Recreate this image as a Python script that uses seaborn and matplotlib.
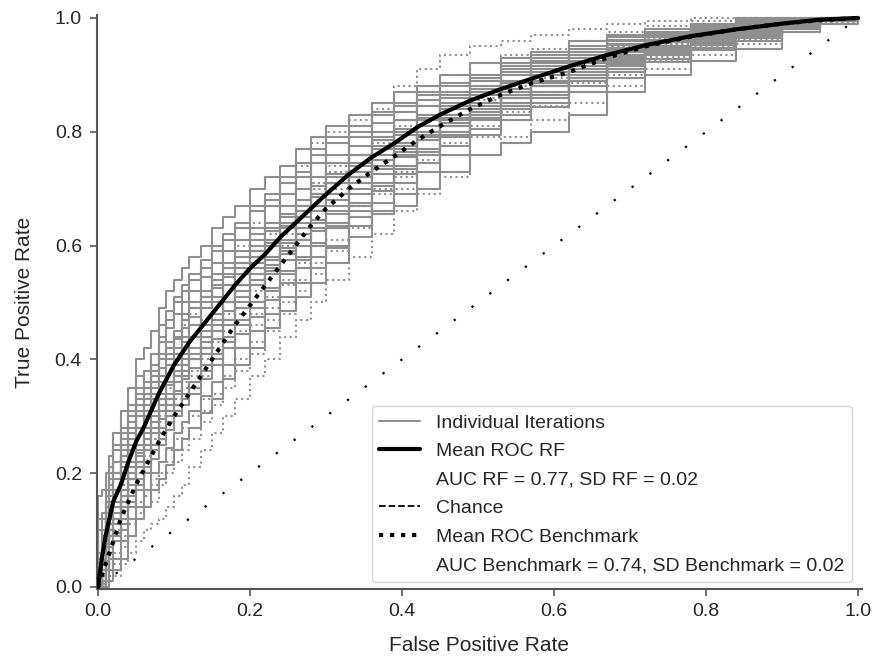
import numpy as np
import pandas as pd
import matplotlib
matplotlib.use("Agg")
import matplotlib.pyplot as plt
from matplotlib.lines import Line2D
import seaborn as sns

# False positive rate grid shared by all curves (the origin appears twice so
# every curve can start with a vertical jump at FPR = 0)
fpr_grid = [0.0, 0.0, 0.005, 0.01, 0.015, 0.02, 0.03, 0.04, 0.05, 0.06, 0.07,
            0.08, 0.09, 0.10, 0.11, 0.12, 0.135, 0.15, 0.165, 0.18, 0.20, 0.22,
            0.24, 0.26, 0.28, 0.30, 0.33, 0.36, 0.39, 0.42, 0.45, 0.49, 0.53,
            0.57, 0.62, 0.67, 0.72, 0.78, 0.84, 0.90, 0.95, 1.0]

# Mean ROC curves
mean_rf = [0, 0, .05, .09, .12, .15, .18, .22, .255, .28, .31, .34, .365, .39,
           .41, .43, .455, .48, .505, .53, .56, .585, .615, .64, .665, .69, .725,
           .755, .78, .808, .83, .855, .875, .893, .915, .935, .952, .968, .98,
           .99, .997, 1.0]
mean_bench = [0, 0, .02, .04, .06, .08, .12, .15, .18, .205, .23, .255, .278, .30,
              .32, .34, .37, .40, .43, .46, .495, .53, .565, .60, .635, .665, .70,
              .73, .757, .785, .81, .84, .865, .885, .905, .93, .95, .967, .98,
              .99, .996, 1.0]

# Individual RF iterations (solid grey)
rf_iters = [
    [0, .16, .17, .20, .23, .27, .31, .35, .40, .42, .45, .49, .52, .54, .56, .58, .60, .63, .65, .67, .70, .72, .74, .77, .79, .81, .83, .85, .87, .88, .90, .92, .93, .94, .96, .97, .98, .99, 1.0, 1.0, 1.0, 1.0],
    [0, .12, .13, .16, .20, .24, .27, .31, .35, .38, .41, .44, .47, .50, .52, .54, .56, .59, .61, .63, .66, .68, .71, .73, .76, .78, .80, .83, .845, .865, .88, .895, .915, .93, .945, .962, .972, .985, .993, .998, 1.0, 1.0],
    [0, .10, .12, .17, .21, .25, .28, .32, .37, .38, .41, .46, .485, .51, .53, .55, .575, .60, .62, .64, .67, .69, .72, .745, .77, .79, .81, .835, .85, .87, .885, .90, .92, .935, .95, .967, .976, .988, .996, .998, 1.0, 1.0],
    [0, .05, .10, .15, .19, .22, .26, .30, .34, .36, .39, .43, .455, .48, .50, .52, .545, .57, .59, .61, .63, .67, .69, .72, .745, .76, .79, .815, .835, .855, .87, .89, .91, .925, .94, .96, .97, .983, .992, .996, .999, 1.0],
    [0, .04, .09, .13, .17, .20, .24, .28, .32, .34, .37, .41, .42, .44, .48, .50, .52, .55, .57, .59, .62, .64, .67, .70, .72, .745, .775, .80, .82, .845, .86, .88, .90, .915, .935, .953, .966, .979, .989, .995, .998, 1.0],
    [0, .05, .08, .12, .16, .20, .23, .27, .31, .33, .36, .40, .42, .45, .47, .49, .51, .54, .56, .58, .61, .63, .65, .67, .69, .71, .73, .75, .77, .79, .81, .83, .85, .87, .895, .92, .94, .958, .972, .986, .996, 1.0],
    [0, .02, .08, .12, .15, .19, .22, .26, .30, .32, .35, .385, .41, .435, .455, .475, .50, .525, .545, .57, .60, .625, .655, .68, .705, .725, .76, .785, .805, .83, .85, .875, .89, .91, .93, .947, .961, .976, .986, .993, .998, 1.0],
    [0, .03, .07, .11, .14, .17, .21, .25, .28, .31, .34, .37, .40, .42, .44, .46, .49, .51, .53, .56, .59, .61, .64, .67, .69, .71, .745, .775, .80, .825, .845, .87, .885, .905, .925, .943, .958, .973, .984, .992, .998, 1.0],
    [0, .01, .06, .10, .14, .17, .20, .24, .28, .30, .33, .36, .39, .41, .43, .44, .49, .50, .53, .55, .58, .605, .635, .66, .685, .71, .74, .77, .795, .82, .84, .865, .885, .90, .92, .94, .957, .972, .983, .992, .997, 1.0],
    [0, 0, .05, .08, .12, .15, .19, .22, .25, .28, .31, .34, .36, .39, .41, .44, .46, .48, .50, .53, .56, .58, .61, .64, .67, .69, .72, .76, .78, .81, .83, .85, .875, .89, .915, .935, .95, .968, .98, .99, .997, 1.0],
    [0, 0, .045, .085, .11, .14, .17, .21, .24, .27, .30, .33, .355, .38, .40, .42, .45, .47, .50, .52, .55, .575, .605, .63, .66, .68, .72, .75, .775, .80, .825, .85, .87, .89, .91, .932, .95, .966, .979, .989, .997, 1.0],
    [0, 0, .04, .075, .10, .13, .16, .20, .235, .26, .29, .32, .34, .37, .39, .41, .43, .46, .485, .51, .54, .565, .595, .62, .645, .67, .71, .74, .765, .795, .82, .845, .865, .885, .91, .93, .947, .964, .977, .988, .997, 1.0],
    [0, 0, .03, .07, .10, .12, .15, .19, .22, .25, .28, .31, .33, .36, .38, .40, .42, .45, .47, .50, .53, .555, .585, .61, .64, .66, .70, .735, .76, .79, .815, .84, .86, .88, .905, .928, .945, .962, .976, .988, .996, 1.0],
    [0, 0, .02, .06, .09, .11, .14, .18, .21, .24, .27, .295, .32, .345, .365, .385, .41, .435, .46, .49, .50, .55, .575, .60, .625, .655, .69, .725, .755, .785, .81, .835, .86, .88, .90, .925, .943, .96, .974, .987, .996, 1.0],
    [0, 0, .01, .045, .07, .095, .12, .16, .19, .22, .25, .27, .30, .32, .34, .36, .39, .41, .44, .47, .50, .525, .555, .58, .605, .635, .675, .71, .74, .77, .80, .83, .85, .87, .895, .917, .938, .957, .971, .985, .996, 1.0],
    [0, 0, .01, .04, .06, .09, .11, .15, .18, .21, .24, .26, .29, .31, .33, .35, .38, .40, .43, .46, .49, .52, .55, .575, .60, .63, .67, .705, .735, .765, .795, .825, .845, .865, .89, .915, .936, .955, .97, .985, .995, 1.0],
    [0, 0, .005, .03, .05, .08, .10, .14, .17, .20, .225, .25, .275, .30, .32, .34, .365, .39, .42, .445, .475, .505, .535, .56, .58, .60, .66, .695, .725, .76, .79, .82, .84, .86, .89, .91, .934, .953, .968, .984, .995, 1.0],
    [0, 0, 0, .01, .03, .05, .08, .12, .14, .17, .20, .22, .245, .27, .29, .31, .335, .36, .39, .42, .45, .48, .51, .535, .56, .595, .635, .675, .71, .745, .775, .805, .83, .85, .88, .905, .928, .948, .964, .982, .995, 1.0],
    [0, 0, 0, 0, .01, .03, .05, .09, .12, .14, .17, .19, .215, .24, .26, .28, .305, .33, .365, .39, .42, .455, .485, .51, .535, .57, .615, .655, .69, .73, .76, .795, .82, .843, .87, .895, .922, .943, .96, .98, .994, 1.0],
    [0, 0, .03, .07, .10, .12, .16, .19, .23, .25, .28, .31, .33, .36, .38, .40, .42, .45, .47, .50, .53, .56, .59, .61, .63, .64, .65, .66, .67, .70, .73, .76, .78, .80, .83, .87, .90, .925, .945, .975, .99, 1.0],
    [0, .06, .10, .15, .18, .22, .25, .29, .33, .35, .38, .41, .43, .45, .47, .49, .51, .53, .55, .57, .59, .61, .63, .65, .67, .69, .72, .74, .76, .79, .81, .84, .86, .88, .90, .925, .945, .962, .975, .988, .997, 1.0],
    [0, 0, .02, .04, .07, .09, .12, .15, .18, .21, .25, .28, .31, .34, .37, .40, .44, .47, .50, .53, .57, .60, .63, .66, .69, .72, .76, .79, .82, .845, .865, .89, .905, .92, .94, .955, .97, .98, .99, .995, .999, 1.0],
]

# Individual benchmark iterations (dotted grey)
bench_iters = [
    [0, .07, .10, .14, .17, .20, .25, .28, .32, .35, .37, .40, .42, .44, .46, .48, .51, .54, .57, .60, .64, .67, .71, .74, .78, .80, .82, .85, .87, .88, .90, .92, .935, .945, .96, .975, .985, .995, 1.0, 1.0, 1.0, 1.0],
    [0, .03, .08, .12, .16, .19, .23, .27, .30, .32, .34, .36, .38, .40, .42, .44, .47, .50, .53, .56, .59, .62, .65, .68, .71, .73, .76, .78, .80, .82, .845, .87, .89, .91, .93, .95, .965, .978, .988, .995, .999, 1.0],
    [0, .04, .06, .09, .11, .14, .18, .22, .25, .28, .30, .33, .35, .37, .39, .41, .44, .47, .50, .53, .57, .60, .64, .67, .71, .73, .76, .79, .81, .83, .86, .88, .90, .915, .93, .95, .965, .975, .985, .993, .998, 1.0],
    [0, .02, .04, .07, .09, .11, .15, .18, .21, .24, .26, .29, .31, .33, .35, .37, .40, .43, .46, .49, .53, .56, .60, .63, .67, .70, .73, .76, .78, .81, .84, .86, .88, .90, .92, .94, .958, .972, .984, .993, .998, 1.0],
    [0, 0, .03, .05, .08, .10, .14, .17, .20, .23, .25, .28, .30, .32, .34, .36, .39, .42, .45, .48, .52, .55, .59, .62, .66, .69, .72, .75, .775, .80, .83, .855, .875, .895, .915, .935, .955, .97, .982, .991, .996, 1.0],
    [0, 0, .01, .03, .04, .06, .09, .12, .15, .17, .19, .22, .24, .26, .28, .30, .33, .36, .39, .42, .46, .49, .53, .56, .60, .63, .67, .70, .73, .76, .79, .82, .845, .87, .89, .915, .938, .955, .97, .984, .994, 1.0],
    [0, 0, 0, .01, .02, .04, .07, .09, .12, .14, .15, .18, .20, .22, .24, .26, .29, .32, .35, .38, .41, .45, .48, .52, .55, .59, .63, .66, .70, .73, .76, .79, .82, .845, .87, .90, .925, .945, .962, .98, .992, 1.0],
    [0, 0, .01, .02, .04, .05, .08, .11, .13, .16, .18, .20, .22, .24, .26, .28, .31, .34, .37, .40, .43, .47, .50, .54, .57, .61, .65, .69, .72, .75, .78, .81, .835, .86, .885, .91, .932, .95, .966, .982, .993, 1.0],
    [0, 0, 0, 0, .01, .02, .04, .06, .08, .10, .11, .12, .14, .16, .18, .21, .24, .27, .30, .33, .37, .40, .44, .47, .50, .54, .58, .62, .66, .69, .72, .76, .79, .82, .85, .88, .91, .935, .955, .975, .99, 1.0],
    [0, .02, .05, .07, .10, .12, .16, .19, .22, .25, .27, .30, .32, .34, .36, .38, .42, .45, .48, .51, .55, .58, .62, .66, .70, .74, .79, .84, .88, .91, .935, .95, .96, .97, .98, .99, .995, 1.0, 1.0, 1.0, 1.0, 1.0],
    [0, .01, .03, .06, .09, .12, .16, .19, .22, .24, .26, .28, .30, .31, .33, .35, .37, .39, .42, .45, .48, .51, .54, .57, .60, .63, .67, .71, .74, .77, .80, .83, .86, .885, .91, .935, .955, .97, .984, .993, .998, 1.0],
]

chance_x = [0.0, 1.0]
chance_y = [0.0, 1.0]

auc_rf, sd_rf = 0.77, 0.02
auc_bench, sd_bench = 0.74, 0.02

sns.set_style("ticks")
plt.rcParams['font.family'] = ['Liberation Sans', 'DejaVu Sans']

fig = plt.figure(figsize=(8.75, 6.59), dpi=100)
ax = fig.add_axes([0.1103, 0.1067, 0.8747, 0.8704])

grey = '#8f8f8f'
for tpr in rf_iters:
    ax.plot(fpr_grid, tpr, color=grey, lw=1.5, drawstyle='steps-post', zorder=2)
for tpr in bench_iters:
    ax.plot(fpr_grid, tpr, color=grey, lw=1.5, ls=':', drawstyle='steps-post', zorder=2)

df_mean = pd.DataFrame({'fpr': fpr_grid, 'rf': mean_rf, 'bench': mean_bench})
sns.lineplot(data=df_mean, x='fpr', y='rf', color='black', lw=3, ax=ax,
             estimator=None, sort=False, zorder=4)
sns.lineplot(data=df_mean, x='fpr', y='bench', color='black', lw=3, ls=':', ax=ax,
             estimator=None, sort=False, zorder=4)
ax.plot(chance_x, chance_y, color='black', lw=1.6, dashes=(1.0, 9), zorder=3)

ax.set_xlim(-0.002, 1.005)
ax.set_ylim(-0.003, 1.005)
ax.set_xticks([0.0, 0.2, 0.4, 0.6, 0.8, 1.0])
ax.set_yticks([0.0, 0.2, 0.4, 0.6, 0.8, 1.0])
ax.tick_params(labelsize=14, length=5, width=1.2, color='#555555', pad=5.5)
ax.set_xlabel('False Positive Rate', fontsize=15, labelpad=11)
ax.set_ylabel('True Positive Rate', fontsize=15, labelpad=15)
for s in ['left', 'bottom']:
    ax.spines[s].set_color('#555555')
    ax.spines[s].set_linewidth(1.5)
sns.despine(ax=ax)

blank = Line2D([], [], color='none')
handles = [
    Line2D([], [], color=grey, lw=1.5),
    Line2D([], [], color='black', lw=3),
    blank,
    Line2D([], [], color='black', lw=1.3, ls='--'),
    Line2D([], [], color='black', lw=3, ls=':'),
    blank,
]
labels = [
    'Individual Iterations',
    'Mean ROC RF',
    f'AUC RF = {auc_rf:.2f}, SD RF = {sd_rf:.2f}',
    'Chance',
    'Mean ROC Benchmark',
    f'AUC Benchmark = {auc_bench:.2f}, SD Benchmark = {sd_bench:.2f}',
]
leg = ax.legend(handles, labels, loc='lower right', bbox_to_anchor=(0.987, 0.012),
                fontsize=14, handlelength=2.1, labelspacing=0.56, frameon=True,
                borderpad=0.4, borderaxespad=0.0)
leg.get_frame().set_edgecolor('#cccccc')

plt.savefig('out.png', dpi=100)
